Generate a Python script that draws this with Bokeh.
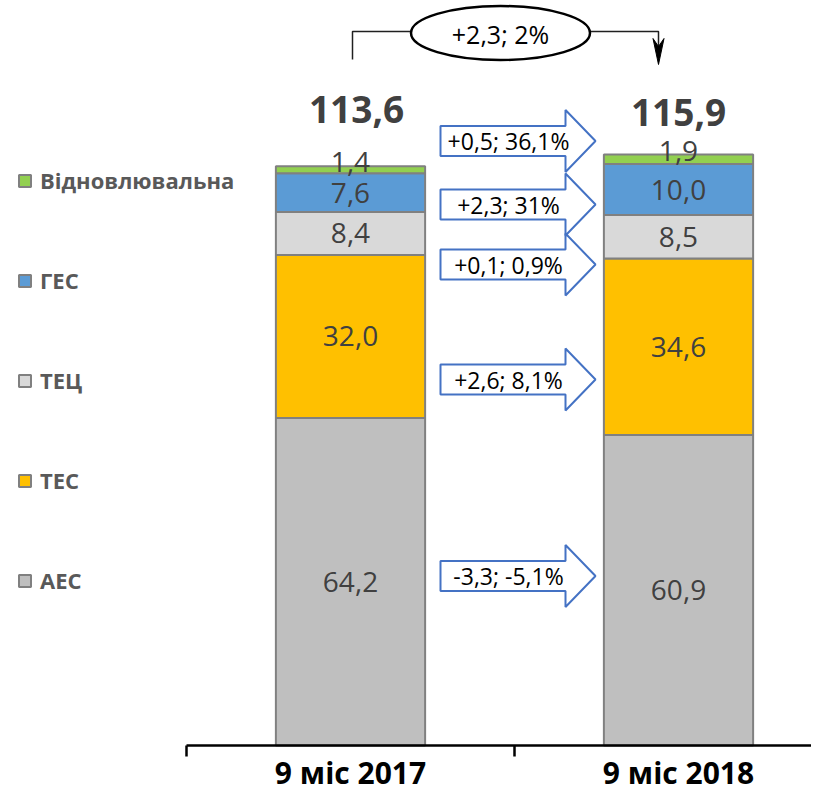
from bokeh.plotting import figure
from bokeh.models import Range1d, FixedTicker, Legend, LegendItem, ColumnDataSource
from bokeh.core.properties import value
from bokeh.embed import file_html
from bokeh.resources import INLINE

# ---------------- data ----------------
periods = ["9 міс 2017", "9 міс 2018"]
series = ["АЕС", "ТЕС", "ТЕЦ", "ГЕС", "Відновлювальна"]
aes = [64.2, 60.9]
tes = [32.0, 34.6]
tec = [8.4, 8.5]
ges = [7.6, 10.0]
renew = [1.4, 1.9]
change_labels = ["-3,3; -5,1%", "+2,6; 8,1%", "+0,1; 0,9%", "+2,3; 31%", "+0,5; 36,1%"]
total_change_label = "+2,3; 2%"

# ---------------- style ----------------
colors = ["#BFBFBF", "#FFC000", "#D9D9D9", "#5B9BD5", "#92D050"]
label_dy = [0, 0, 0, 0, -8]      # px nudge of segment labels per series
FONT = "Open Sans"
W, H = 811, 792
X0PX, XS = 186.0, 328.0       # pixel of x=0, px per category
Y0PX, YS = 745.0, 5.1         # pixel of y=0, px per unit


def px2x(px):
    return (px - X0PX) / XS


def py2y(py):
    return (Y0PX - py) / YS


p = figure(width=W, height=H, output_backend="svg", toolbar_location=None,
           x_range=Range1d(-X0PX / XS, (W - X0PX) / XS),
           y_range=Range1d(-(H - Y0PX) / YS, Y0PX / YS),
           y_axis_location=None, min_border=0)
p.grid.visible = False
p.outline_line_color = None

xc = [i + 0.5 for i in range(len(periods))]
values = [aes, tes, tec, ges, renew]
data = dict(x=xc)
for name, vals in zip(series, values):
    data[name] = vals
src = ColumnDataSource(data)

renderers = p.vbar_stack(series, x="x", width=0.455, source=src,
                         fill_color=colors, line_color="#808080", line_width=2)

# segment labels
lx, ly, lt, lo = [], [], [], []
cum = [0.0] * len(periods)
for k, vals in enumerate(values):
    for i, v in enumerate(vals):
        lx.append(xc[i])
        ly.append(cum[i] + v / 2)
        lt.append(f"{v:.1f}".replace(".", ","))
        lo.append(label_dy[k])
        cum[i] += v
lsrc = ColumnDataSource(dict(x=lx, y=ly, t=lt, yo=lo))
p.text(x="x", y="y", text="t", y_offset="yo", source=lsrc,
       text_font=value(FONT), text_font_size="28px",
       text_color="#404040", text_align="center", text_baseline="middle")

# totals
totals = cum
tsrc = ColumnDataSource(dict(x=xc, y=totals,
                             t=[f"{t:.1f}".replace(".", ",") for t in totals],
                             xo=[6, 0], yo=[-57, -42]))
p.text(x="x", y="y", text="t", x_offset="xo", y_offset="yo", source=tsrc,
       text_font=value(FONT), text_font_style="bold", text_font_size="37px",
       text_color="#404040", text_align="center", text_baseline="middle")

# block arrows (series change)
ARROW_CY = [575.5, 379, 264, 204, 140.5]
axs, ays = [], []
for cy in ARROW_CY:
    pts = [(440, cy - 15), (565, cy - 15), (565, cy - 31), (595, cy),
           (565, cy + 31), (565, cy + 15), (440, cy + 15)]
    axs.append([px2x(a) for a, b in pts])
    ays.append([py2y(b) for a, b in pts])
p.patches(axs, ays, fill_color="white", line_color="#4472C4", line_width=2)
p.text(x=[px2x(508)] * len(ARROW_CY), y=[py2y(c) for c in ARROW_CY], text=change_labels,
       text_font=value(FONT), text_font_size="23px", text_color="black",
       text_align="center", text_baseline="middle")

# top connector
p.line([px2x(352), px2x(352), px2x(411)], [py2y(59), py2y(31), py2y(31)],
       line_color="#202020", line_width=1.5)
p.line([px2x(589), px2x(658), px2x(658)], [py2y(31), py2y(31), py2y(50)],
       line_color="#202020", line_width=1.5)
p.patch([px2x(658), px2x(652.5), px2x(658), px2x(663.5)],
        [py2y(64), py2y(38), py2y(46), py2y(38)], fill_color="black", line_color="black")
p.ellipse(x=[px2x(500)], y=[py2y(32.5)], width=179, height=54,
          width_units="screen", height_units="screen",
          fill_color="white", line_color="black", line_width=2.5)
p.text(x=[px2x(500)], y=[py2y(33)], text=[total_change_label], text_font=value(FONT),
       text_font_size="25px", text_color="black", text_align="center", text_baseline="middle")

# x axis
xa = p.xaxis[0]
xa.ticker = FixedTicker(ticks=xc, minor_ticks=[float(i) for i in range(len(periods) + 1)])
xa.major_label_overrides = {x: lab for x, lab in zip(xc, periods)}
xa.fixed_location = 0
xa.bounds = (0, len(periods))
xa.axis_line_color = "black"
xa.axis_line_width = 2.5
xa.major_tick_out = 0
xa.major_tick_in = 0
xa.minor_tick_out = 11
xa.minor_tick_in = 0
xa.minor_tick_line_color = "black"
xa.minor_tick_line_width = 2.5
xa.major_label_standoff = -5
xa.major_label_text_font = FONT
xa.major_label_text_font_style = "bold"
xa.major_label_text_font_size = "30px"
xa.major_label_text_color = "black"

# legend
items = [LegendItem(label=name, renderers=[r]) for name, r in zip(series, renderers)][::-1]
legend = Legend(items=items, location=(17, 197), orientation="vertical",
                glyph_width=15, glyph_height=15, label_height=30, spacing=70,
                padding=0, margin=0, label_standoff=8,
                border_line_alpha=0, background_fill_alpha=0,
                label_text_font=FONT, label_text_font_style="bold",
                label_text_font_size="22px", label_text_color="#595959")
p.add_layout(legend)

open("out.html", "w").write(file_html(p, INLINE))
